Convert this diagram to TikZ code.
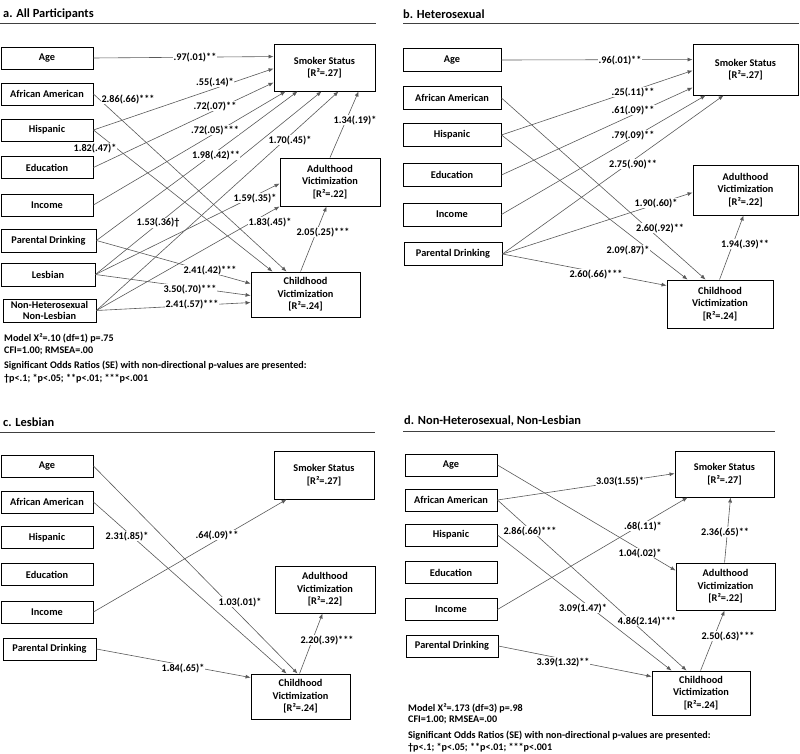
\documentclass[tikz,border=0pt]{standalone}
\usepackage{fontspec}
\setmainfont{Carlito}
\usetikzlibrary{arrows.meta}
\begin{document}
\begin{tikzpicture}[x=1pt,y=-1pt,
  box/.style={draw=black, line width=0.9pt, inner sep=0pt, align=center, fill=white, font=\fontsize{10.3}{12.5}\selectfont\bfseries},
  lbl/.style={fill=white, inner sep=0.5pt, font=\fontsize{10.2}{12}\selectfont\bfseries},
  conn/.style={draw=black!65, line width=0.6pt, -{Latex[length=5pt,width=4pt]}},
  ttl/.style={anchor=west, inner sep=0pt, font=\fontsize{12.4}{14}\selectfont\bfseries},
  note/.style={anchor=west, inner sep=0pt, font=\fontsize{10.1}{12}\selectfont\bfseries},
  rulel/.style={draw=black!75, line width=1pt}]
\useasboundingbox (0,0) rectangle (800,754);

% ================= Panel a =================
\node[ttl] (ta) at (3,14) {a. All Participants};
\draw[rulel] (0,24) -- (376,24);
\node[box, minimum width=92pt, minimum height=22pt] (aAge) at (47,58) {Age};
\node[box, minimum width=92pt, minimum height=22pt] (aAA) at (47,94) {African American};
\node[box, minimum width=92pt, minimum height=22pt] (aHisp) at (47,130) {Hispanic};
\node[box, minimum width=92pt, minimum height=22pt] (aEdu) at (47,167.5) {Education};
\node[box, minimum width=92pt, minimum height=22pt] (aInc) at (47,205) {Income};
\node[box, minimum width=95pt, minimum height=23pt] (aPD) at (48.5,240.5) {Parental Drinking};
\node[box, minimum width=94pt, minimum height=23pt] (aLes) at (48,274.5) {Lesbian};
\node[box, minimum width=93pt, minimum height=23pt, font=\fontsize{10.3}{11.8}\selectfont\bfseries] (aNH) at (49.5,310.5) {Non-Heterosexual\\Non-Lesbian};
\node[box, minimum width=101pt, minimum height=47pt] (aSmk) at (324.5,67.5) {Smoker Status\\{[R²=.27]}};
\node[box, minimum width=100pt, minimum height=48pt] (aAdu) at (330,182) {Adulthood\\Victimization\\{[R²=.22]}};
\node[box, minimum width=109pt, minimum height=45pt] (aChd) at (305.5,294.5) {Childhood\\Victimization\\{[R²=.24]}};

\draw[conn] (aAge.east) -- ([yshift=-13pt]aSmk.north west);
\draw[conn] (aHisp.east) -- ([yshift=-25pt]aSmk.north west);
\draw[conn] (aEdu.east) -- ([yshift=-39pt]aSmk.north west);
\draw[conn] (aInc.east) -- ([xshift=12pt]aSmk.south west);
\draw[conn] (aPD.east) -- ([xshift=24pt]aSmk.south west);
\draw[conn] (aLes.east) -- ([xshift=48pt]aSmk.south west);
\draw[conn] (aNH.east) -- ([xshift=65pt]aSmk.south west);
\draw[conn] (aAdu.north) -- ([xshift=85pt]aSmk.south west);
\draw[conn] (aLes.east) -- ([yshift=-26pt]aAdu.north west);
\draw[conn] (aNH.east) -- (aAdu.south west);
\draw[conn] (aAA.east) -- ([xshift=36pt]aChd.north west);
\draw[conn] (aHisp.east) -- ([xshift=22pt]aChd.north west);
\draw[conn] (aPD.east) -- ([yshift=-12pt]aChd.north west);
\draw[conn] (aLes.east) -- ([yshift=-24pt]aChd.north west);
\draw[conn] (aNH.east) -- ([yshift=-31pt]aChd.north west);
\draw[conn] ([xshift=50pt]aChd.north west) -- ([xshift=47pt]aAdu.south west);

\node[lbl] (la1) at (195,57) {.97(.01)**};
\node[lbl] (la2) at (215,82) {.55(.14)*};
\node[lbl] (la3) at (215,106) {.72(.07)**};
\node[lbl] (la4) at (215,130) {.72(.05)***};
\node[lbl] (la5) at (216,155) {1.98(.42)**};
\node[lbl] (la6) at (158,223) {1.53(.36)†};
\node[lbl] (la7) at (290,140) {1.70(.45)*};
\node[lbl] (la8) at (355,120) {1.34(.19)*};
\node[lbl] (la9) at (255,198) {1.59(.35)*};
\node[lbl] (la10) at (270,222) {1.83(.45)*};
\node[lbl] (la11) at (128,99) {2.86(.66)***};
\node[lbl] (la12) at (95,148) {1.82(.47)*};
\node[lbl] (la13) at (210,270) {2.41(.42)***};
\node[lbl] (la14) at (190,289) {3.50(.70)***};
\node[lbl] (la15) at (192,304) {2.41(.57)***};
\node[lbl] (la16) at (323,232) {2.05(.25)***};

\node[note] (naA) at (4,338) {Model X²=.10 (df=1) p=.75};
\node[note] (naB) at (4,351) {CFI=1.00; RMSEA=.00};
\node[note] (naC) at (4,366) {Significant Odds Ratios (SE) with non-directional p-values are presented:};
\node[note] (naD) at (4,379) {†p<.1; *p<.05; **p<.01; ***p<.001};

% ================= Panel b =================
\node[ttl] (tb) at (403,14) {b. Heterosexual};
\draw[rulel] (403,24) -- (799,24);
\node[box, minimum width=98pt, minimum height=23pt] (bAge) at (452,60) {Age};
\node[box, minimum width=98pt, minimum height=23pt] (bAA) at (452,98) {African American};
\node[box, minimum width=98pt, minimum height=23pt] (bHisp) at (452,135) {Hispanic};
\node[box, minimum width=98pt, minimum height=23pt] (bEdu) at (452,175) {Education};
\node[box, minimum width=98pt, minimum height=23pt] (bInc) at (452,214.5) {Income};
\node[box, minimum width=98pt, minimum height=23pt] (bPD) at (453,254) {Parental Drinking};
\node[box, minimum width=105pt, minimum height=51pt] (bSmk) at (745.5,69.5) {Smoker Status\\{[R²=.27]}};
\node[box, minimum width=105pt, minimum height=50pt] (bAdu) at (745.5,190) {Adulthood\\Victimization\\{[R²=.22]}};
\node[box, minimum width=106pt, minimum height=48pt] (bChd) at (720,304) {Childhood\\Victimization\\{[R²=.24]}};

\draw[conn] (bAge.east) -- ([yshift=-16pt]bSmk.north west);
\draw[conn] (bHisp.east) -- ([yshift=-27pt]bSmk.north west);
\draw[conn] (bEdu.east) -- ([yshift=-44pt]bSmk.north west);
\draw[conn] (bInc.east) -- ([xshift=13pt]bSmk.south west);
\draw[conn] (bPD.east) -- ([xshift=31pt]bSmk.south west);
\draw[conn] (bPD.east) -- ([yshift=-28pt]bAdu.north west);
\draw[conn] (bAA.east) -- ([xshift=39pt]bChd.north west);
\draw[conn] (bHisp.east) -- ([xshift=21pt]bChd.north west);
\draw[conn] (bPD.east) -- ([yshift=-6pt]bChd.north west);
\draw[conn] ([xshift=53pt]bChd.north west) -- ([xshift=51pt]bAdu.south west);

\node[lbl] (lb1) at (620,60) {.96(.01)**};
\node[lbl] (lb2) at (633,92) {.25(.11)**};
\node[lbl] (lb3) at (633,110) {.61(.09)**};
\node[lbl] (lb4) at (633,135) {.79(.09)**};
\node[lbl] (lb5) at (633,164) {2.75(.90)**};
\node[lbl] (lb6) at (656,203) {1.90(.60)*};
\node[lbl] (lb7) at (660,228) {2.60(.92)**};
\node[lbl] (lb8) at (628,250) {2.09(.87)*};
\node[lbl] (lb9) at (596,274) {2.60(.66)***};
\node[lbl] (lb10) at (745,244) {1.94(.39)**};

% ================= Panel c =================
\node[ttl] (tc) at (3,422) {c. Lesbian};
\draw[rulel] (0,432) -- (375,432);
\node[box, minimum width=92pt, minimum height=22pt] (cAge) at (47,466) {Age};
\node[box, minimum width=92pt, minimum height=22pt] (cAA) at (47,502) {African American};
\node[box, minimum width=92pt, minimum height=22pt] (cHisp) at (47,537.5) {Hispanic};
\node[box, minimum width=92pt, minimum height=22pt] (cEdu) at (47,574.5) {Education};
\node[box, minimum width=92pt, minimum height=22pt] (cInc) at (47,612) {Income};
\node[box, minimum width=93pt, minimum height=22pt] (cPD) at (49.5,649) {Parental Drinking};
\node[box, minimum width=100pt, minimum height=48pt] (cSmk) at (324,475) {Smoker Status\\{[R²=.27]}};
\node[box, minimum width=100pt, minimum height=47pt] (cAdu) at (325,589.5) {Adulthood\\Victimization\\{[R²=.22]}};
\node[box, minimum width=99pt, minimum height=45pt] (cChd) at (300.5,696.5) {Childhood\\Victimization\\{[R²=.24]}};

\draw[conn] (cAge.east) -- ([xshift=47pt]cChd.north west);
\draw[conn] (cAA.east) -- ([xshift=36pt]cChd.north west);
\draw[conn] (cInc.east) -- ([xshift=13pt]cSmk.south west);
\draw[conn] (cPD.east) -- ([yshift=-4pt]cChd.north west);
\draw[conn] ([xshift=49pt]cChd.north west) -- ([xshift=48pt]cAdu.south west);

\node[lbl] (lc1) at (240,602) {1.03(.01)*};
\node[lbl] (lc2) at (127,536) {2.31(.85)*};
\node[lbl] (lc3) at (217,535) {.64(.09)**};
\node[lbl] (lc4) at (183,668) {1.84(.65)*};
\node[lbl] (lc5) at (327,640) {2.20(.39)***};

% ================= Panel d =================
\node[ttl] (td) at (404,421) {d. Non-Heterosexual, Non-Lesbian};
\draw[rulel] (403,431) -- (775,431);
\node[box, minimum width=92pt, minimum height=22pt] (dAge) at (451,465) {Age};
\node[box, minimum width=92pt, minimum height=22pt] (dAA) at (451,500) {African American};
\node[box, minimum width=92pt, minimum height=22pt] (dHisp) at (451,535) {Hispanic};
\node[box, minimum width=92pt, minimum height=22pt] (dEdu) at (451,572.5) {Education};
\node[box, minimum width=92pt, minimum height=22pt] (dInc) at (451,609.5) {Income};
\node[box, minimum width=92pt, minimum height=22pt] (dPD) at (452,646) {Parental Drinking};
\node[box, minimum width=99pt, minimum height=46pt] (dSmk) at (724.5,474) {Smoker Status\\{[R²=.27]}};
\node[box, minimum width=99pt, minimum height=47pt] (dAdu) at (725.5,586.5) {Adulthood\\Victimization\\{[R²=.22]}};
\node[box, minimum width=98pt, minimum height=44pt] (dChd) at (701,693) {Childhood\\Victimization\\{[R²=.24]}};

\draw[conn] (dAA.east) -- ([yshift=-23pt]dSmk.north west);
\draw[conn] (dAge.east) -- ([yshift=-8pt]dAdu.north west);
\draw[conn] (dInc.east) -- ([xshift=13pt]dSmk.south west);
\draw[conn] (dAA.east) -- ([xshift=35pt]dChd.north west);
\draw[conn] (dHisp.east) -- ([xshift=20pt]dChd.north west);
\draw[conn] (dPD.east) -- ([yshift=-6pt]dChd.north west);
\draw[conn] ([xshift=49pt]dChd.north west) -- ([xshift=49pt]dAdu.south west);
\draw[conn] ([xshift=49pt]dAdu.north west) -- ([xshift=56pt]dSmk.south west);

\node[lbl] (ld1) at (620,481) {3.03(1.55)*};
\node[lbl] (ld2) at (640,553) {1.04(.02)*};
\node[lbl] (ld3) at (643,526) {.68(.11)*};
\node[lbl] (ld4) at (530,531) {2.86(.66)***};
\node[lbl] (ld5) at (583,608) {3.09(1.47)*};
\node[lbl] (ld6) at (647,621) {4.86(2.14)***};
\node[lbl] (ld7) at (563,662) {3.39(1.32)**};
\node[lbl] (ld8) at (728,636) {2.50(.63)***};
\node[lbl] (ld9) at (725,532) {2.36(.65)**};

\node[note] (ndA) at (408,708) {Model X²=.173 (df=3) p=.98};
\node[note] (ndB) at (408,720) {CFI=1.00; RMSEA=.00};
\node[note] (ndC) at (408,736) {Significant Odds Ratios (SE) with non-directional p-values are presented:};
\node[note] (ndD) at (408,748) {†p<.1; *p<.05; **p<.01; ***p<.001};
\end{tikzpicture}
\end{document}
